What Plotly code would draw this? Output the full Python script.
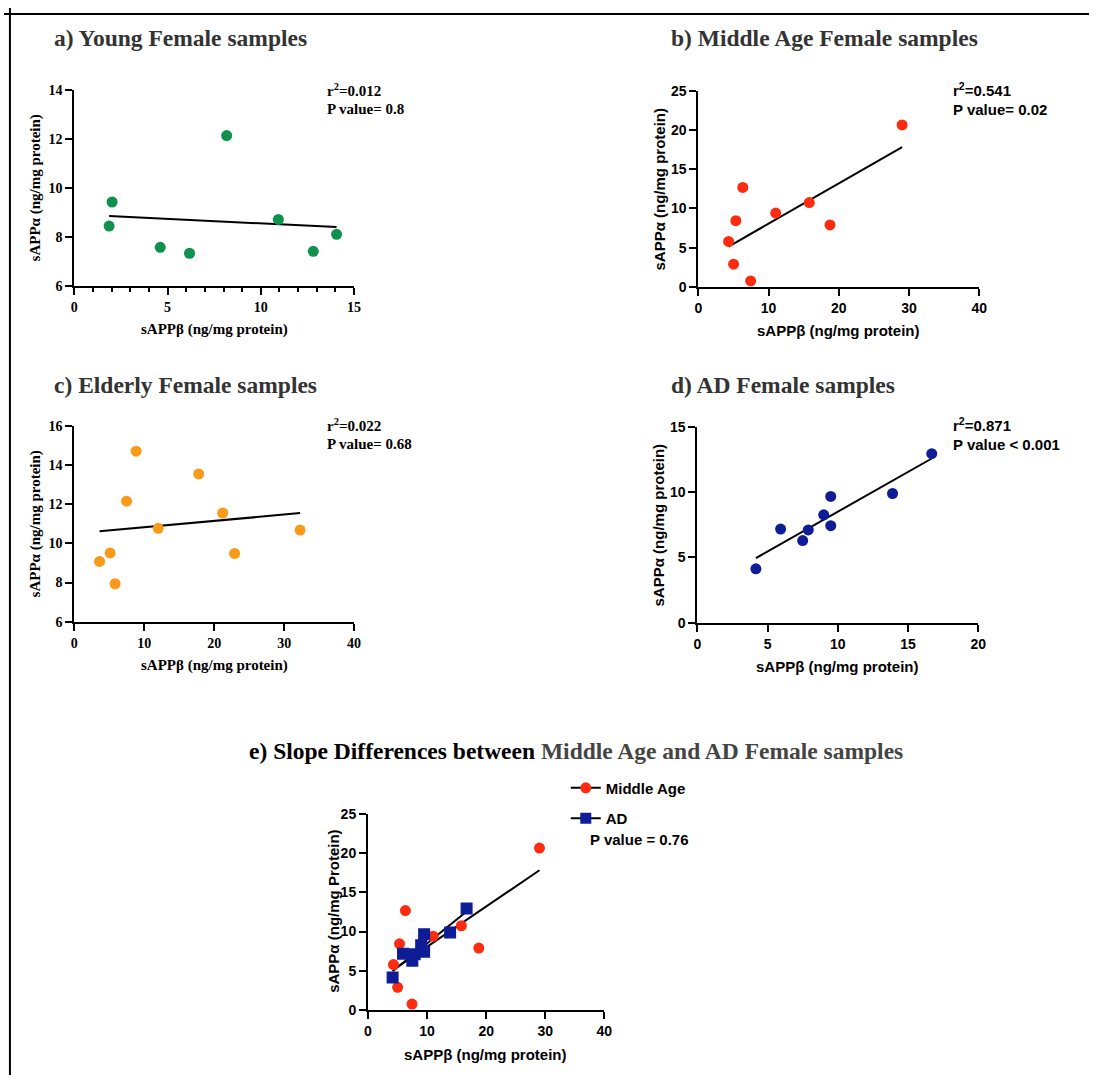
import numpy as np
import plotly.graph_objects as go

# ---------------- data ----------------
young_x = [1.87, 2.03, 4.61, 6.18, 8.17, 10.94, 12.81, 14.06]
young_y = [8.44, 9.42, 7.57, 7.33, 12.13, 8.71, 7.41, 8.10]

mid_x = [4.31, 5.02, 5.34, 6.33, 7.45, 11.02, 15.80, 18.75, 29.02]
mid_y = [5.79, 2.89, 8.43, 12.67, 0.75, 9.40, 10.74, 7.89, 20.64]

eld_x = [3.62, 5.13, 5.84, 7.48, 8.85, 12.0, 17.79, 21.22, 22.92, 32.28]
eld_y = [9.08, 9.51, 7.94, 12.15, 14.70, 10.77, 13.54, 11.55, 9.49, 10.68]

ad_x = [4.17, 5.93, 7.50, 7.90, 9.00, 9.50, 9.50, 13.90, 16.69]
ad_y = [4.13, 7.17, 6.29, 7.10, 8.26, 9.67, 7.43, 9.89, 12.94]

titles = ["a) Young Female samples", "b) Middle Age Female samples",
          "c) Elderly Female samples", "d) AD Female samples"]
stats = [("0.012", "P value= 0.8"), ("0.541", "P value= 0.02"),
         ("0.022", "P value= 0.68"), ("0.871", "P value < 0.001")]
x_title = "sAPPβ (ng/mg protein)"
y_title = "sAPPα (ng/mg protein)"
y_title_e = "sAPPα (ng/mg Protein)"
legend_names = ["Middle Age", "AD"]
p_text_e = "P value = 0.76"

# ---------------- style ----------------
W, H = 1097, 1083
GREEN, RED, ORANGE, NAVY = "#10914e", "#fd2c10", "#f99a1a", "#0e1c95"
SERIF = "Liberation Serif, Times New Roman, serif"
SANS = "Liberation Sans, Arial, sans-serif"


def px_x(p):
    return p / W


def px_y(p):
    return 1 - p / H


def fit_line(x, y):
    k, b = np.polyfit(np.array(x), np.array(y), 1)
    xs = np.array([min(x), max(x)])
    return xs, k * xs + b


fig = go.Figure()

panels = [
    ("", young_x, young_y, GREEN, (71, 354), (83, 282), [0, 15], [6, 14], 5, 2, SERIF, True),
    ("2", mid_x, mid_y, RED, (702, 986), (84, 283), [0, 40], [0, 25], 10, 5, SANS, False),
    ("3", eld_x, eld_y, ORANGE, (71, 354), (424, 623), [0, 40], [6, 16], 10, 2, SERIF, False),
    ("4", ad_x, ad_y, NAVY, (701, 985), (425, 624), [0, 20], [0, 15], 5, 5, SANS, False),
]

layout_axes = {}
annotations = []

for i, (sfx, xs, ys, col, xd, yd, xr, yr, xdt, ydt, fam, minor) in enumerate(panels):
    xa = "x" + sfx
    ya = "y" + sfx
    lx, ly = fit_line(xs, ys)
    fig.add_trace(go.Scatter(x=lx, y=ly, mode="lines", line=dict(color="black", width=2),
                             xaxis=xa, yaxis=ya, showlegend=False, hoverinfo="skip"))
    fig.add_trace(go.Scatter(x=xs, y=ys, mode="markers",
                             marker=dict(color=col, size=11, symbol="circle"),
                             xaxis=xa, yaxis=ya, showlegend=False))
    tickfont = dict(family=fam, size=14, color="black", weight="bold")
    txtfont = dict(family=fam, size=15, color="black", weight="bold")
    xdict = dict(domain=[px_x(xd[0]), px_x(xd[1])], range=xr, dtick=xdt, tick0=0,
                 showline=True, linecolor="black", linewidth=2, ticks="outside",
                 ticklen=7, tickwidth=2, tickcolor="black", showgrid=False, zeroline=False,
                 tickfont=tickfont, anchor=ya, fixedrange=True)
    if minor:
        xdict["minor"] = dict(dtick=1, ticks="outside", ticklen=4, tickwidth=2, tickcolor="black")
    ydict = dict(domain=[px_y(yd[1]), px_y(yd[0])], range=yr, dtick=ydt, tick0=0,
                 showline=True, linecolor="black", linewidth=2, ticks="outside",
                 ticklen=7, tickwidth=2, tickcolor="black", showgrid=False, zeroline=False,
                 tickfont=tickfont, anchor=xa, fixedrange=True)
    layout_axes["xaxis" + sfx] = xdict
    layout_axes["yaxis" + sfx] = ydict

    tx = 49 if i in (0, 2) else 672
    ty = 30 if i < 2 else 383
    annotations.append(dict(text=titles[i], x=px_x(tx), y=px_y(ty), xref="paper", yref="paper",
                            xanchor="left", yanchor="middle", showarrow=False,
                            font=dict(family=SERIF, size=23.5, color="#333333", weight="bold")))
    sx = 325 if i in (0, 2) else 957
    sy = 83 if i < 2 else 423
    r2, pv = stats[i]
    annotations.append(dict(text="r<sup>2</sup>=" + r2, x=px_x(sx), y=px_y(sy), xref="paper",
                            yref="paper", xanchor="left", yanchor="middle", showarrow=False,
                            font=txtfont))
    annotations.append(dict(text=pv, x=px_x(sx), y=px_y(sy + 20), xref="paper",
                            yref="paper", xanchor="left", yanchor="middle", showarrow=False,
                            font=txtfont))
    xcx = (xd[0] + xd[1]) / 2
    annotations.append(dict(text=x_title, x=px_x(xcx), y=px_y(yd[1] + 44), xref="paper",
                            yref="paper", xanchor="center", yanchor="middle", showarrow=False,
                            font=txtfont))
    annotations.append(dict(text=y_title, x=px_x(xd[0] - 39), y=px_y((yd[0] + yd[1]) / 2),
                            xref="paper", yref="paper", xanchor="center", yanchor="middle",
                            textangle=-90, showarrow=False, font=txtfont))

# ---------------- panel e ----------------
for xs, ys in [(mid_x, mid_y), (ad_x, ad_y)]:
    lx, ly = fit_line(xs, ys)
    fig.add_trace(go.Scatter(x=lx, y=ly, mode="lines", line=dict(color="black", width=2),
                             xaxis="x5", yaxis="y5", showlegend=False, hoverinfo="skip"))
for xs, ys, col, sym in [(mid_x, mid_y, RED, "circle"), (ad_x, ad_y, NAVY, "square")]:
    fig.add_trace(go.Scatter(x=xs, y=ys, mode="markers",
                             marker=dict(color=col, size=11 if sym == "circle" else 12, symbol=sym),
                             xaxis="x5", yaxis="y5", showlegend=False))
for name, col, sym, grp in [(legend_names[0], RED, "circle", "g1"), (legend_names[1], NAVY, "square", "g2")]:
    fig.add_trace(go.Scatter(x=[None], y=[None], mode="lines+markers", name=name,
                             line=dict(color="black", width=2),
                             marker=dict(color=col, size=11, symbol=sym),
                             xaxis="x5", yaxis="y5", legendgroup=grp, showlegend=True))

exd, eyd = (368, 607), (818, 1017)
etick = dict(family=SANS, size=14, color="black", weight="bold")
efont = dict(family=SANS, size=15, color="black", weight="bold")
layout_axes["xaxis5"] = dict(domain=[px_x(exd[0]), px_x(exd[1])], range=[0, 40], dtick=10,
                             showline=True, linecolor="black", linewidth=2, ticks="outside",
                             ticklen=7, tickwidth=2, tickcolor="black", showgrid=False,
                             zeroline=False, tickfont=etick, anchor="y5", fixedrange=True)
layout_axes["yaxis5"] = dict(domain=[px_y(eyd[1]), px_y(eyd[0])], range=[0, 25], dtick=5,
                             showline=True, linecolor="black", linewidth=2, ticks="outside",
                             ticklen=7, tickwidth=2, tickcolor="black", showgrid=False,
                             zeroline=False, tickfont=etick, anchor="x5", fixedrange=True)

annotations.append(dict(
    text="e) Slope Differences between <span style='color:#444444'>Middle Age and AD Female samples</span>",
    x=px_x(578), y=px_y(754), xref="paper", yref="paper", xanchor="center", yanchor="middle",
    showarrow=False, font=dict(family=SERIF, size=23.5, color="black", weight="bold")))
annotations.append(dict(text=x_title, x=px_x(487), y=px_y(1062), xref="paper", yref="paper",
                        xanchor="center", yanchor="middle", showarrow=False, font=efont))
annotations.append(dict(text=y_title_e, x=px_x(333), y=px_y(917), xref="paper", yref="paper",
                        xanchor="center", yanchor="middle", textangle=-90, showarrow=False,
                        font=efont))
annotations.append(dict(text=p_text_e, x=px_x(590), y=px_y(844), xref="paper", yref="paper",
                        xanchor="left", yanchor="middle", showarrow=False, font=efont))

shapes = [
    dict(type="line", xref="paper", yref="paper", x0=0, x1=1, y0=px_y(6), y1=px_y(6),
         line=dict(color="black", width=2)),
    dict(type="line", xref="paper", yref="paper", x0=px_x(6), x1=px_x(6), y0=0, y1=1,
         line=dict(color="black", width=2)),
]

fig.update_layout(
    width=W, height=H, margin=dict(l=0, r=0, t=0, b=0),
    paper_bgcolor="white", plot_bgcolor="white",
    annotations=annotations, shapes=shapes,
    legend=dict(x=px_x(568), y=px_y(775), xanchor="left", yanchor="top",
                font=dict(family=SANS, size=15, color="black", weight="bold"),
                bgcolor="rgba(0,0,0,0)", tracegroupgap=8, itemwidth=30),
    **layout_axes,
)

# remove the default 8px page margin so the 1097x1083 figure fills the window exactly
fig.write_html("out.html", config={"displayModeBar": False},
               post_script="document.body.style.margin='0';document.body.style.overflow='hidden';")
